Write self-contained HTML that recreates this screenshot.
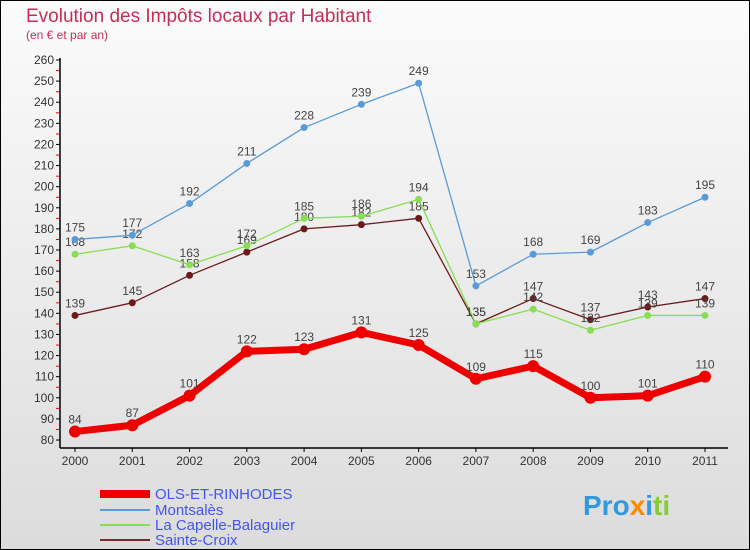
<!DOCTYPE html>
<html><head><meta charset="utf-8"><style>
body{margin:0;}
#wrap{width:750px;height:550px;position:relative;overflow:hidden;font-family:"Liberation Sans",sans-serif;}
</style></head><body>
<div id="wrap">
<svg id="svg" width="750" height="550" xmlns="http://www.w3.org/2000/svg">
<defs><linearGradient id="bg" x1="0" y1="0" x2="0" y2="1"><stop offset="0" stop-color="#fbfbfb"/><stop offset="1" stop-color="#dcdcdc"/></linearGradient></defs>
<rect x="0.5" y="0.5" width="749" height="549" fill="url(#bg)" stroke="#000"/>
<text x="26" y="22" font-size="19" fill="#c0305a">Evolution des Impôts locaux par Habitant</text>
<text x="26" y="39" font-size="12" fill="#c0305a">(en € et par an)</text>
<g id="axes"></g><g id="series"></g>
<g>
<line x1="100" y1="494" x2="150" y2="494" stroke="#ee0000" stroke-width="8"/>
<text x="155" y="499" font-size="15" fill="#4455ee">OLS-ET-RINHODES</text>
<line x1="100" y1="510" x2="150" y2="510" stroke="#5b9bd5" stroke-width="2"/>
<text x="155" y="515" font-size="15" fill="#4455ee">Montsalès</text>
<line x1="100" y1="525" x2="150" y2="525" stroke="#88dd55" stroke-width="2"/>
<text x="155" y="530" font-size="15" fill="#4455ee">La Capelle-Balaguier</text>
<line x1="100" y1="540" x2="150" y2="540" stroke="#7a2a2a" stroke-width="2"/>
<text x="155" y="545" font-size="15" fill="#4455ee">Sainte-Croix</text>
</g>
<text x="583" y="515" font-size="28" font-weight="bold"><tspan fill="#3399dd">Pro</tspan><tspan fill="#ff8800">x</tspan><tspan fill="#3399dd">i</tspan><tspan fill="#88cc33">ti</tspan></text>
</svg></div>
<script>
const years=["2000","2001","2002","2003","2004","2005","2006","2007","2008","2009","2010","2011"];
const olsValues=[84,87,101,122,123,131,125,109,115,100,101,110];
const montsalesValues=[175,177,192,211,228,239,249,153,168,169,183,195];
const capelleValues=[168,172,163,172,185,186,194,135,142,132,139,139];
const sainteCroixValues=[139,145,158,169,180,182,185,135,147,137,143,147];
const yTicks=[80,90,100,110,120,130,140,150,160,170,180,190,200,210,220,230,240,250,260];
const NS="http://www.w3.org/2000/svg";
const yMin=80,yMax=260;
function xs(i){return 75+i*(705-75)/(years.length-1);}
function ys(v){return 440-(v-yMin)*(380/(yMax-yMin));}
function mk(tag,attrs,parent){const e=document.createElementNS(NS,tag);for(const k in attrs)e.setAttribute(k,attrs[k]);parent.appendChild(e);return e;}
const axes=document.getElementById('axes');
let a=mk('line',{x1:60,y1:58,x2:60,y2:448,stroke:'#000','stroke-width':1.5},axes);


a=mk('line',{x1:60,y1:448,x2:728,y2:448,stroke:'#000','stroke-width':1.5},axes);


yTicks.forEach((t,i)=>{
 const y=ys(t);
 const tk=mk('line',{x1:56,y1:y,x2:60,y2:y,stroke:'#000'},axes);
 
 
 if(i<yTicks.length-1){const m=mk('line',{x1:56,y1:y-10.5,x2:60,y2:y-10.5,stroke:'#e00'},axes);
 
 }
 const tx=mk('text',{x:54,y:y+4,'font-size':12,fill:'#333','text-anchor':'end'},axes);tx.textContent=t;
 
 
});
years.forEach((yr,i)=>{
 const x=xs(i);
 const tk=mk('line',{x1:x,y1:448,x2:x,y2:452,stroke:'#000'},axes);
 
 
 const tx=mk('text',{x:x,y:465,'font-size':12,fill:'#333','text-anchor':'middle'},axes);tx.textContent=yr;
 
 
});
const ser=document.getElementById('series');
function draw(vals,color,w,r,name){
 const g=mk('g',{},ser);
 
 
 const pl=mk('polyline',{points:vals.map((v,i)=>xs(i)+','+ys(v)).join(' '),fill:'none',stroke:color,'stroke-width':w,'stroke-linejoin':'round'},g);
 
 
 vals.forEach((v,i)=>{
  const c=mk('circle',{cx:xs(i),cy:ys(v),r:r,fill:color},g);
  
  
  const t=mk('text',{x:xs(i),y:ys(v)-8,'font-size':12,fill:'#444','text-anchor':'middle'},g);t.textContent=v;
  
  
 });
}
draw(sainteCroixValues,'#6b1a1a',1.3,3.5,'sainte-croix');
draw(capelleValues,'#88dd55',1.3,3.5,'capelle');
draw(montsalesValues,'#5b9bd5',1.3,3.5,'montsales');
draw(olsValues,'#ee0000',7,6,'ols');
</script>
</body></html>
